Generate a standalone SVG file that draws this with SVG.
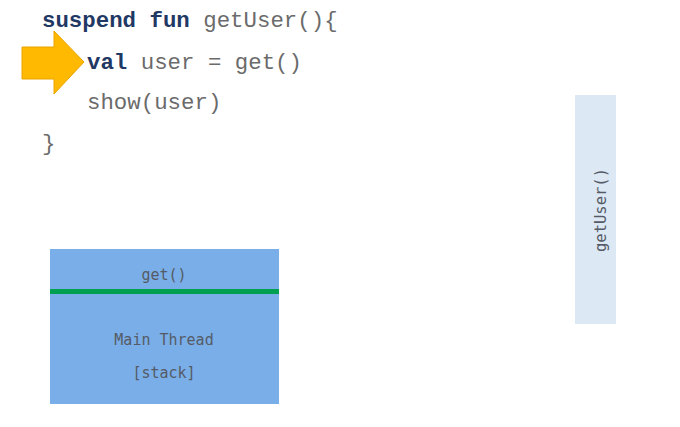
<svg xmlns="http://www.w3.org/2000/svg" width="680" height="427" viewBox="0 0 680 427">
<style>
.code{font-family:"Liberation Mono","Courier New",monospace;font-size:22.4px;fill:#6b6b6b}
.kw{font-weight:bold;fill:#1f3864}
.lbl{font-family:"DejaVu Sans Mono",monospace;font-size:15px;fill:#555b66}
</style>
<rect width="680" height="427" fill="#ffffff"/>
<g id="code">
<text class="code" x="42" y="27"><tspan class="kw">suspend fun</tspan> getUser(){</text>
<text class="code" x="87" y="69"><tspan class="kw">val</tspan> user = get()</text>
<text class="code" x="87" y="109">show(user)</text>
<text class="code" x="42" y="150">}</text>
</g>
<g id="arrow">
<polygon points="22,47 54,47 54,31 84,62 54,94 54,79 22,79" fill="#ffb900" stroke="#e8a400" stroke-width="1"/>
</g>
<g id="main-thread">
<rect x="50" y="249" width="229" height="155" fill="#7aaee8"/>
<line x1="50" y1="291.5" x2="279" y2="291.5" stroke="#00a050" stroke-width="5"/>
<text class="lbl" x="164" y="280" text-anchor="middle">get()</text>
<text class="lbl" x="164" y="345" text-anchor="middle">Main Thread</text>
<text class="lbl" x="164" y="378" text-anchor="middle">[stack]</text>
</g>
<g id="getuser-frame">
<rect x="575" y="95" width="41" height="229" fill="#dde8f5"/>
<text class="lbl" x="0" y="0" text-anchor="middle" style="font-size:15.5px" transform="translate(606,210) rotate(-90)">getUser()</text>
</g>
<g id="connectors"></g>
</svg>
